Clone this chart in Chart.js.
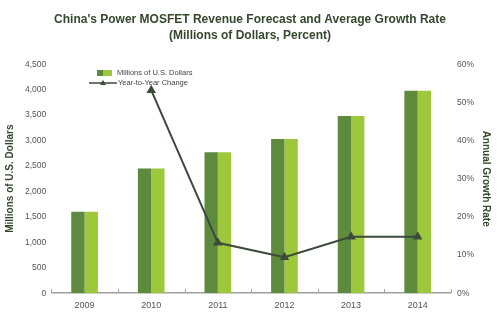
<!DOCTYPE html>
<html>
<head>
<meta charset="utf-8">
<script src="https://cdn.jsdelivr.net/npm/chart.js@4.4.1/dist/chart.umd.min.js"></script>
<style>
  html, body { margin: 0; padding: 0; background: #fff; }
  #wrap { width: 500px; height: 322px; position: relative; }
</style>
</head>
<body>
<div id="wrap"><canvas id="bar-chart" width="500" height="322"></canvas></div>
<script>
const years = ['2009', '2010', '2011', '2012', '2013', '2014'];
const revenue = [1600, 2450, 2770, 3030, 3480, 3980];
const growth = [null, 53.2, 13.2, 9.4, 14.8, 14.8];
const revenueTicks = [0, 500, 1000, 1500, 2000, 2500, 3000, 3500, 4000, 4500];
const growthTicks = [0, 10, 20, 30, 40, 50, 60];

const darkGreen = '#5e8a3e';
const lightGreen = '#9dc83c';
const lineColor = '#3c4a3b';
const textGreen = '#34482c';
const tickGray = '#555';
const axisGray = '#a0a0a0';
const fontFamily = '"Liberation Sans", Arial, sans-serif';

// small upward ticks between the years, on the bottom axis line
const axisTicks = {
  id: 'axisTicks',
  afterDraw(chart) {
    const x = chart.scales.x;
    const c = chart.ctx;
    const bottom = chart.chartArea.bottom;
    c.save();
    c.strokeStyle = axisGray;
    c.lineWidth = 1;
    for (let i = 0; i <= years.length; i++) {
      const px = Math.round(x.getPixelForValue(i - 0.5)) + 0.5;
      c.beginPath();
      c.moveTo(px, bottom);
      c.lineTo(px, bottom - 4);
      c.stroke();
    }
    c.restore();
  }
};

// legend drawn inside the plot, near the top left
const innerLegend = {
  id: 'innerLegend',
  afterDraw(chart) {
    const c = chart.ctx;
    c.save();
    c.font = '7.5px ' + fontFamily;
    c.textBaseline = 'middle';
    // bar swatch
    c.fillStyle = darkGreen;
    c.fillRect(97, 70, 6, 6);
    c.fillStyle = lightGreen;
    c.fillRect(103, 70, 9, 6);
    c.fillStyle = '#444';
    c.fillText('Millions of U.S. Dollars', 117, 73);
    // line swatch
    c.strokeStyle = lineColor;
    c.lineWidth = 1.5;
    c.beginPath();
    c.moveTo(89, 83);
    c.lineTo(117, 83);
    c.stroke();
    c.fillStyle = lineColor;
    c.beginPath();
    c.moveTo(103, 80);
    c.lineTo(106, 85);
    c.lineTo(100, 85);
    c.closePath();
    c.fill();
    c.fillStyle = '#444';
    c.fillText('Year-to-Year Change', 118, 83);
    c.restore();
  }
};

const config = {
  data: {
    labels: years,
    datasets: [
      {
        type: 'line',
        label: 'Year-to-Year Change',
        data: growth,
        yAxisID: 'yRight',
        borderColor: lineColor,
        backgroundColor: lineColor,
        borderWidth: 2,
        pointStyle: 'triangle',
        pointRadius: 3.5,
        pointHoverRadius: 3.5,
        tension: 0,
        order: 0
      },
      {
        type: 'bar',
        label: 'Millions of U.S. Dollars',
        data: revenue,
        yAxisID: 'y',
        backgroundColor: darkGreen,
        barPercentage: 1,
        categoryPercentage: 0.4,
        order: 1
      },
      {
        type: 'bar',
        label: 'Millions of U.S. Dollars (light)',
        data: revenue,
        yAxisID: 'y',
        backgroundColor: lightGreen,
        barPercentage: 1,
        categoryPercentage: 0.4,
        order: 1
      }
    ]
  },
  options: {
    responsive: false,
    animation: false,
    layout: { padding: { left: 4, right: 4, top: 8, bottom: 4 } },
    plugins: {
      legend: { display: false },
      tooltip: { enabled: false },
      title: {
        display: true,
        text: ["China's Power MOSFET Revenue Forecast and Average Growth Rate", '(Millions of Dollars, Percent)'],
        color: textGreen,
        font: { family: fontFamily, size: 12, weight: 'bold', lineHeight: 1.3 },
        padding: { top: 4, bottom: 21 }
      }
    },
    scales: {
      x: {
        offset: true,
        grid: { display: false, drawTicks: false },
        border: { display: true, color: axisGray, width: 1.5 },
        ticks: {
          color: tickGray,
          font: { family: fontFamily, size: 9 },
          padding: 7
        }
      },
      y: {
        position: 'left',
        min: 0,
        max: 4500,
        afterBuildTicks(axis) { axis.ticks = revenueTicks.map(v => ({ value: v })); },
        grid: { display: false, drawTicks: false },
        border: { display: false },
        ticks: {
          color: tickGray,
          font: { family: fontFamily, size: 8.5 },
          padding: 5,
          callback: v => v.toLocaleString('en-US')
        },
        title: {
          display: true,
          text: 'Millions of U.S. Dollars',
          color: textGreen,
          font: { family: fontFamily, size: 10, weight: 'bold' },
          padding: { top: 0, bottom: 4 }
        }
      },
      yRight: {
        position: 'right',
        min: 0,
        max: 60,
        afterBuildTicks(axis) { axis.ticks = growthTicks.map(v => ({ value: v })); },
        grid: { display: false, drawTicks: false },
        border: { display: false },
        ticks: {
          color: tickGray,
          font: { family: fontFamily, size: 8.5 },
          padding: 6,
          callback: v => v + '%'
        },
        title: {
          display: true,
          text: 'Annual Growth Rate',
          color: textGreen,
          font: { family: fontFamily, size: 10, weight: 'bold' },
          padding: { top: 4, bottom: 0 }
        }
      }
    }
  },
  plugins: [axisTicks, innerLegend]
};

const revenueChart = new Chart(document.getElementById('bar-chart').getContext('2d'), config);
</script>
</body>
</html>
